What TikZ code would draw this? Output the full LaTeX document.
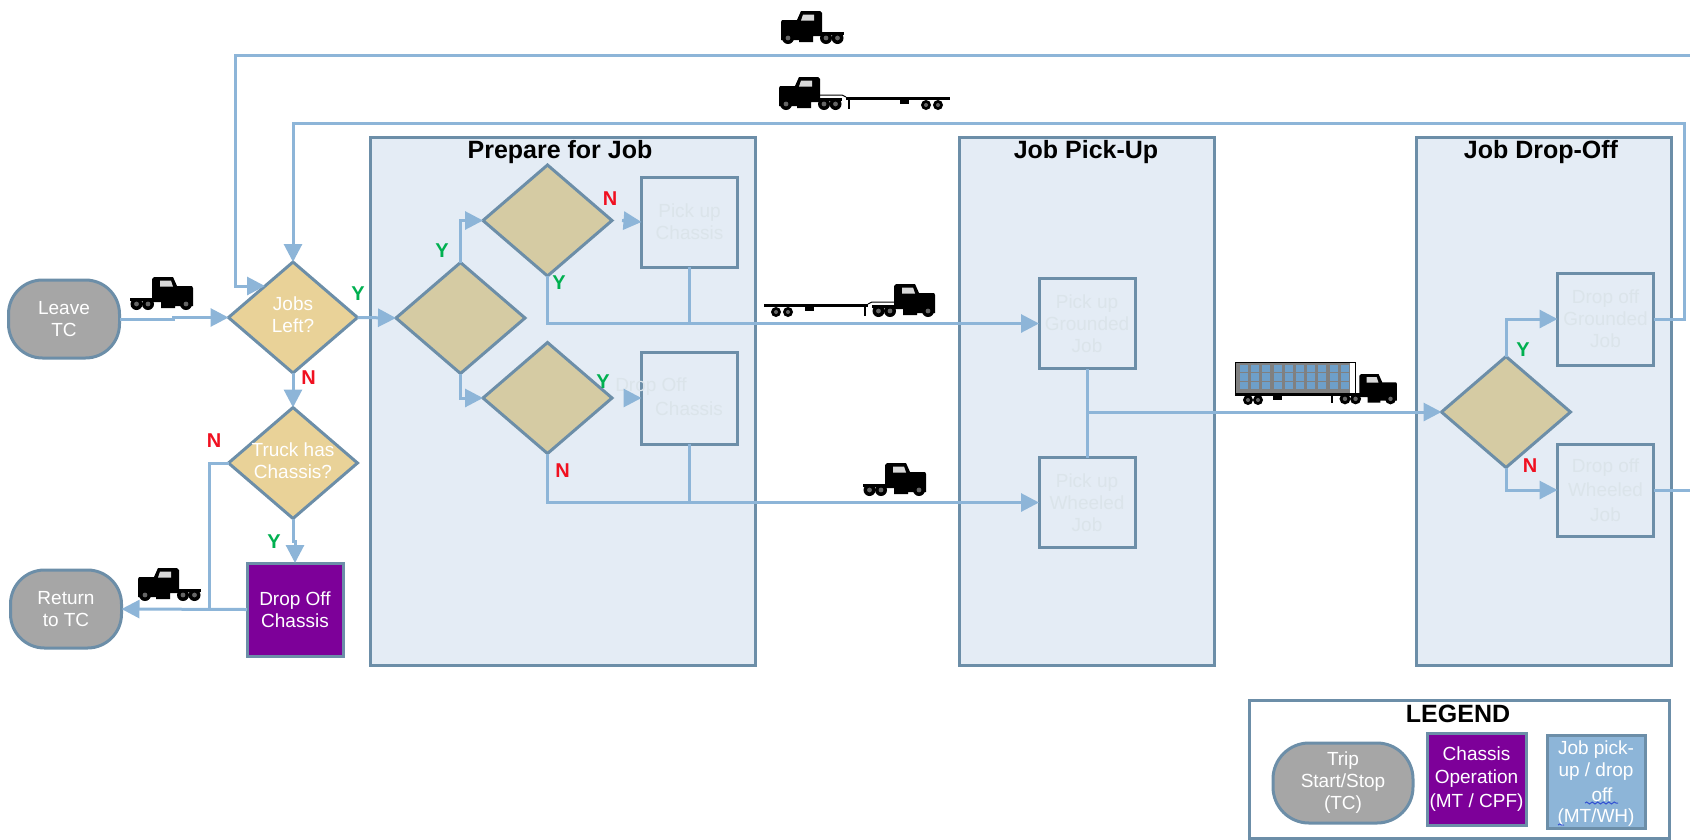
\documentclass[tikz,border=0pt]{standalone}
\usepackage{fontspec}
\setmainfont{Liberation Sans}
\usepackage{tikz}
\usetikzlibrary{arrows.meta,shapes.geometric,decorations.pathmorphing}

\definecolor{edgeblue}{HTML}{6C8EA8}
\definecolor{flowblue}{HTML}{8DB5D8}
\definecolor{cellblue}{HTML}{6E9FC9}
\definecolor{panelblue}{HTML}{E4ECF5}
\definecolor{tan}{HTML}{D5CBA3}
\definecolor{sand}{HTML}{E9D298}
\definecolor{stopgray}{HTML}{A6A6A6}
\definecolor{chassispurple}{HTML}{7D0099}
\definecolor{faint}{HTML}{DBE4EA}
\definecolor{yesgreen}{HTML}{00B050}
\definecolor{nored}{HTML}{F01020}

% keeps the wording from widening a diamond
\newcommand{\zerowide}[1]{\makebox[0pt]{\begin{tabular}{@{}c@{}}#1\end{tabular}}}

\tikzset{
  tractor/.pic={
    \fill[black] (22,24) -- (22,2) -- (24,0) -- (43,0) -- (47,9) -- (62,9)
      -- (63,11) -- (63,29) -- (45,29) -- (45,31) -- (31,31) -- (31,25) -- (22,25) -- cycle;
    \fill[black] (0,21) rectangle (23,24);
    \fill[black!15] (30,3.5) -- (41,3.5) -- (43,9.5) -- (30,9.5) -- cycle;
    \foreach \wx in {6.5,18,56} {
      \fill[black] (\wx,27) circle (6);
      \fill[black!60] (\wx,27) circle (2.4);
    }
  },
  flatbedrig/.pic={
    \fill[black] (0,20) rectangle (104,23);
    \draw[black,line width=1pt] (104,20) -- (108,18) -- (130,18);
    \fill[black] (100,22) rectangle (102,32);
    \fill[black] (41,23) rectangle (50,27);
    \foreach \wx in {12,24} {
      \fill[black] (\wx,28) circle (5);
      \fill[black!60] (\wx,28) circle (2);
    }
    \pic[transform shape] at (108,0) {tractor};
  },
  boxrig/.pic={
    \fill[black] (0,31) rectangle (115,34);
    \draw[black,line width=1pt] (0.5,0.5) rectangle (120,31);
    \fill[white] (115,1) rectangle (119.5,30.5);
    \fill[black!50] (1,1) rectangle (115,30.5);
    \foreach \cx in {0,...,9} {
      \foreach \cy in {6.5,15,23.5} {
        \fill[cellblue] (5+11.2*\cx,\cy-3.8) rectangle (13+11.2*\cx,\cy+3.8);
      }
    }
    \fill[black] (96,34) rectangle (98,41);
    \fill[black] (38,34) rectangle (47,38);
    \foreach \wx in {13,23} {
      \fill[black] (\wx,38) circle (5);
      \fill[black!60] (\wx,38) circle (2);
    }
    \pic[transform shape,scale=0.92] at (104,12) {tractor};
  }
}

\begin{document}
\begin{tikzpicture}[>={Triangle[length=18pt,width=18pt]},x=1pt,y=-1pt,
  every node/.style={font=\fontsize{19}{22}\selectfont,align=center,inner sep=0pt,outer sep=0pt},
  panel/.style={draw=edgeblue,fill=panelblue,line width=3pt},
  heading/.style={font=\fontsize{25}{28}\selectfont\bfseries,text=black},
  terminal/.style={draw=edgeblue,fill=stopgray,line width=3pt,rounded corners=34pt,
    text=white,minimum width=111pt,minimum height=78pt},
  decision/.style={diamond,draw=edgeblue,fill=tan,line width=3pt,aspect=1.16,
    minimum width=129pt,minimum height=111pt},
  question/.style={decision,fill=sand,text=white},
  purplebox/.style={draw=edgeblue,fill=chassispurple,line width=3pt,text=white},
  jobbox/.style={draw=edgeblue,fill=panelblue,line width=3pt,text=faint,
    minimum width=96pt,minimum height=90pt},
  flow/.style={->,draw=flowblue,line width=3pt},
  link/.style={draw=flowblue,line width=3pt},
  yes/.style={font=\fontsize{20}{22}\selectfont\bfseries,text=yesgreen},
  no/.style={font=\fontsize{20}{22}\selectfont\bfseries,text=nored},
  spell/.style={draw={rgb,255:red,50;green,80;blue,210},line width=1pt,decorate,
    decoration={snake,amplitude=1pt,segment length=5.5pt}}]
\useasboundingbox (0,0) rectangle (1690,839);

% panels
\node[panel,minimum width=385pt,minimum height=528pt] (prep) at (562.5,401) {};
\node[panel,minimum width=255pt,minimum height=528pt] (pickup) at (1086.5,401) {};
\node[panel,minimum width=255pt,minimum height=528pt] (dropoff) at (1543.5,401) {};
\node[heading] (preptitle) at (560,152) {Prepare for Job};
\node[heading] (pickuptitle) at (1086,152) {Job Pick-Up};
\node[heading] (dropofftitle) at (1541,152) {Job Drop-Off};

% start and stop
\node[terminal] (leave) at (64,319) {Leave\\TC};
\node[terminal] (back) at (66,609) {Return\\to TC};

% left column
\node[question] (jobs) at (293,317.5) {\zerowide{Jobs\\Left?}};
\node[question] (truckq) at (293,463) {\zerowide{Truck has\\Chassis?}};
\node[purplebox,minimum width=96pt,minimum height=93pt] (dropchassis) at (295,609.5) {Drop Off\\Chassis};

% prepare for job
\node[decision] (first) at (460.5,318) {};
\node[decision] (upper) at (547.5,220.5) {};
\node[decision] (lower) at (547.5,398) {};
\node[jobbox] (pickchassis) at (689.5,222) {Pick up\\Chassis};
\node[jobbox,minimum height=92pt] (boxdrop) at (689.5,398) {};
\node[text=faint] (boxdroptxt) at (651,387) {Drop Off};
\node[text=faint] (boxdroptxtb) at (689,409) {Chassis};

% pick-up and drop-off
\node[jobbox] (pickgrd) at (1087,323.5) {Pick up\\Grounded\\Job};
\node[jobbox] (pickwhl) at (1087,502.5) {Pick up\\Wheeled\\Job};
\node[decision] (split) at (1506,412) {};
\node[jobbox,minimum height=92pt] (dropgrd) at (1605.5,319) {Drop off\\Grounded\\Job};
\node[jobbox,minimum height=92pt] (dropwhl) at (1605.5,490) {Drop off\\[2.5pt]Wheeled\\[2.5pt]Job};

\coordinate (offtop) at (1690,55);
\coordinate (corner) at (235,55);
\coordinate (jobsnw) at (265,286);
\coordinate (rightturn) at (1684,123);
\coordinate (offright) at (1690,490);
\coordinate (meet) at (209,609.5);

\draw[flow] (leave.east) -- ++(54,0) |- (jobs.west);
\draw[flow] (offtop) -- (corner) |- (jobsnw);
\draw[flow] (dropgrd.east) -| (rightturn) -| (jobs.north);
\draw[link] (dropwhl.east) -- (offright);
\draw[flow] (jobs.south) -- (truckq.north);
\draw[flow] (jobs.east) -- (first.west);
\draw[link] (truckq.west) -| (meet);
\draw[flow] (truckq.south) -- ++(0,23) -| (dropchassis.north);
\draw[flow] (dropchassis.west) -- (back.east);
\draw[flow] (first.north) |- (upper.west);
\draw[flow] (first.south) |- (lower.west);
\draw[flow] ([xshift=10pt]upper.east) -- (pickchassis.west);
\draw[flow] ([xshift=12pt]lower.east) -- (boxdrop.west);
\draw[flow] (upper.south) |- (pickgrd.west);
\draw[flow] (lower.south) |- (pickwhl.west);
\draw[link] (pickchassis.south) -- (pickchassis.south |- pickgrd.west);
\draw[link] (boxdrop.south) -- (boxdrop.south |- pickwhl.west);
\draw[link] (pickgrd.south) -- (pickwhl.north);
\draw[flow] (pickgrd.south |- split.west) -- (split.west);
\draw[flow] (split.north) |- (dropgrd.west);
\draw[flow] (split.south) |- (dropwhl.west);

% answers
\node[yes] (yjobs) at (358,294) {Y};
\node[no] (njobs) at (308.5,378) {N};
\node[no] (ntruck) at (214,441) {N};
\node[yes] (ytruck) at (274,542) {Y};
\node[yes] (yfirst) at (442,251) {Y};
\node[no] (nupper) at (610,199) {N};
\node[yes] (yupper) at (559,283) {Y};
\node[yes] (ylower) at (603,382) {Y};
\node[no] (nlower) at (562.5,471) {N};
\node[yes] (ysplit) at (1523,350) {Y};
\node[no] (nsplit) at (1530,466) {N};

% trucks
\pic at (130,277) {tractor};
\pic[xscale=-1] at (201,568) {tractor};
\pic[xscale=-1] at (844,11) {tractor};
\pic[xscale=-1] at (950,77) {flatbedrig};
\pic at (764,284) {flatbedrig};
\pic at (863,463) {tractor};
\pic at (1235,362) {boxrig};

% legend
\node[draw=edgeblue,fill=white,line width=3pt,minimum width=420pt,minimum height=138pt] (legend) at (1459,769) {};
\node[heading] (legendtitle) at (1458,714) {LEGEND};
\node[terminal,minimum width=140pt,minimum height=80pt,rounded corners=36pt] (legtrip) at (1343,783) {Trip\\Start/Stop\\(TC)};
\node[purplebox,minimum width=99pt,minimum height=92pt] (legchassis) at (1476.5,779) {Chassis\\[1.5pt]Operation\\[1.5pt](MT / CPF)};
\node[draw=edgeblue,fill=flowblue,line width=3pt,text=white,minimum width=98pt,minimum height=93pt] (legjob) at (1596,781.5) {};
\node[text=white] (legjoba) at (1596,761) {Job pick-\\up / drop};
\node[text=white] (legjobb) at (1602,795) {off};
\node[text=white] (legjobc) at (1596,818) {(MT/WH)};
\draw[spell] (1585,803) -- (1618,803);
\draw[spell] (1558,825) -- (1564,825);
\end{tikzpicture}
\end{document}
